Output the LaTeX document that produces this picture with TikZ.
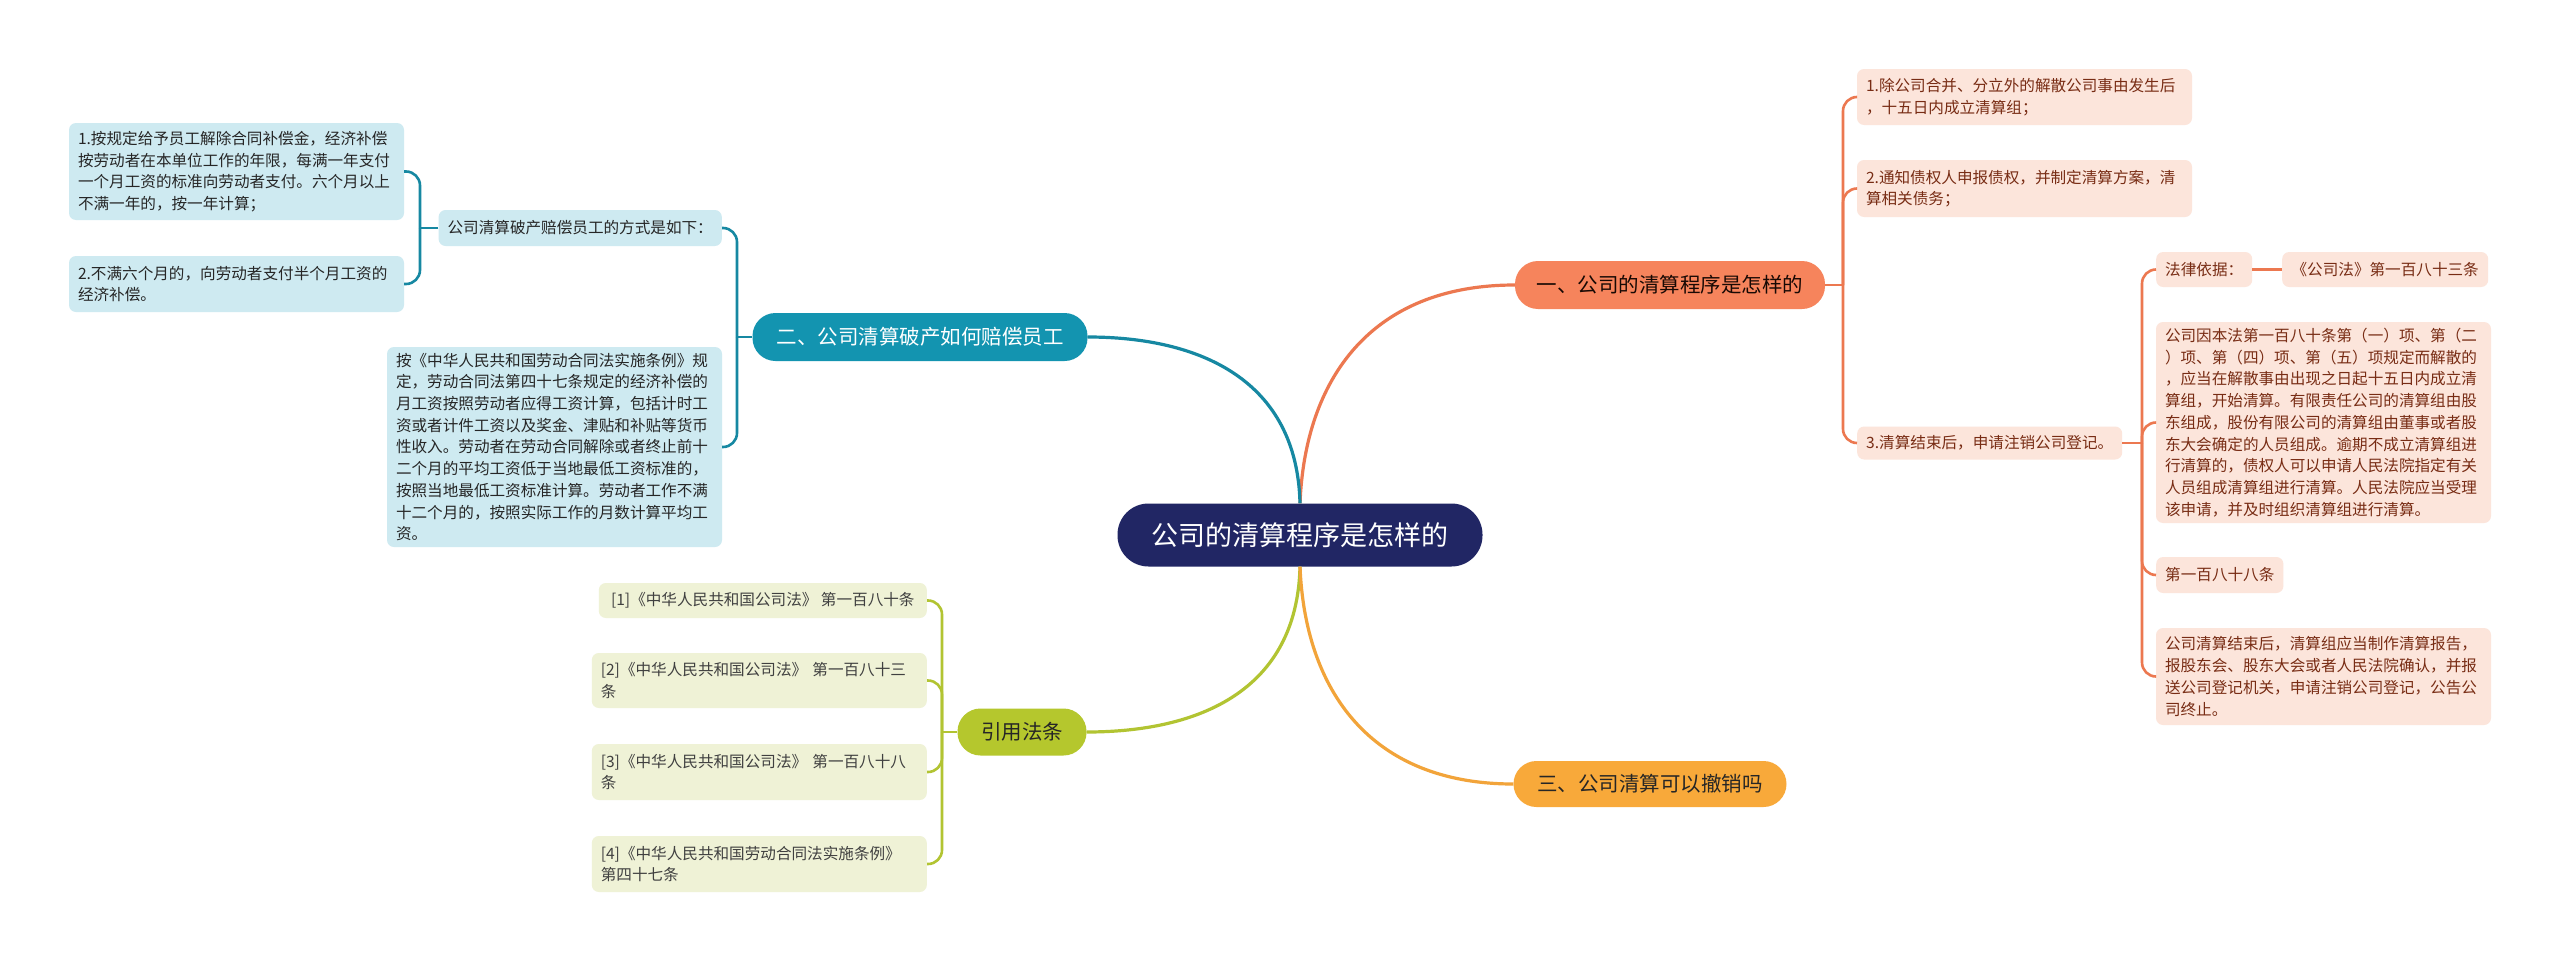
\documentclass[tikz,border=0pt]{standalone}
\usepackage{fontspec}
\setmainfont{Noto Sans CJK SC}

\definecolor{topicblue}{RGB}{33,38,100}
\definecolor{orgfill}{RGB}{246,132,92}
\definecolor{orgline}{RGB}{236,120,80}
\definecolor{orgleaf}{RGB}{252,229,219}
\definecolor{orgtext}{RGB}{120,44,20}
\definecolor{tealfill}{RGB}{19,148,176}
\definecolor{tealline}{RGB}{22,136,162}
\definecolor{tealleaf}{RGB}{206,234,241}
\definecolor{lawfill}{RGB}{181,199,45}
\definecolor{lawline}{RGB}{178,196,50}
\definecolor{lawleaf}{RGB}{239,242,214}
\definecolor{ambfill}{RGB}{248,169,58}
\definecolor{ambline}{RGB}{242,164,58}

\newcommand{\leaffont}{\fontsize{15.6pt}{21.7pt}\selectfont}

\begin{document}
\begin{tikzpicture}[x=1pt, y=-1pt,
                    topicbox/.style={fill=topicblue, text=white, rounded corners=31pt,
                                     minimum width=365pt, minimum height=63pt,
                                     font=\fontsize{27pt}{30pt}\selectfont},
                    branchbox/.style={rounded corners=23pt, inner xsep=0pt,
                                      font=\fontsize{20.5pt}{24pt}\selectfont},
                    leafbox/.style={rounded corners=7pt, inner xsep=9pt, inner ysep=2pt,
                                    align=left, font=\leaffont},
                    orgbox/.style={leafbox, fill=orgleaf, text=orgtext},
                    tealbox/.style={leafbox, fill=tealleaf, text=black!85},
                    lawbox/.style={leafbox, fill=lawleaf, text=black!75},
                    mainline/.style={line width=3.2pt},
                    subline/.style={line width=2.6pt, rounded corners=14pt}]

% background and size
\fill[white] (0,0) rectangle (2560,961);
\useasboundingbox (0,0) rectangle (2560,961);

% centre topic
\node[topicbox] (topic) at (1300,535) {公司的清算程序是怎样的};

% main branches
\node[branchbox, fill=orgfill, text=black!80!orgtext, minimum width=310pt, minimum height=48pt] (procedure) at (1670,285) {一、公司的清算程序是怎样的};
\node[branchbox, fill=tealfill, text=white, minimum width=335pt, minimum height=48pt] (payment) at (920,337) {二、公司清算破产如何赔偿员工};
\node[branchbox, fill=lawfill, text=black!85, minimum width=129pt, minimum height=47pt] (laws) at (1022,732) {引用法条};
\node[branchbox, fill=ambfill, text=black!85, minimum width=273pt, minimum height=46pt] (revoke) at (1650,784) {三、公司清算可以撤销吗};

% connectors from the topic
\draw[mainline, orgline] (topic.north) .. controls (1305,380) and (1370,285) .. (procedure.west);
\draw[mainline, tealline] (topic.north) .. controls (1297,380) and (1200,337) .. (payment.east);
\draw[mainline, lawline] (topic.south) .. controls (1297,690) and (1200,732) .. (laws.east);
\draw[mainline, ambline] (topic.south) .. controls (1305,690) and (1370,784) .. (revoke.west);

% branch one: steps
\node[orgbox, text width=317pt, minimum height=56pt] (stepa) at (2024.5,97) {1.除公司合并、分立外的解散公司事由发生后\\，十五日内成立清算组；};
\node[orgbox, text width=317pt, minimum height=57pt] (stepb) at (2024.5,188.5) {2.通知债权人申报债权，并制定清算方案，清\\算相关债务；};
\node[orgbox, anchor=west, minimum height=33pt] (stepc) at (1857,443) {3.清算结束后，申请注销公司登记。};

\coordinate (procfork) at (1843,285);
\draw[subline, orgline] (procedure.east) -- (procfork);
\draw[subline, orgline] (procfork) |- (stepa.west);
\draw[subline, orgline] (procfork) |- (stepb.west);
\draw[subline, orgline] (procfork) |- (stepc.west);

% step three details
\node[orgbox, anchor=west, minimum height=35pt] (basis) at (2156,269.5) {法律依据：};
\node[orgbox, anchor=west, minimum height=35pt, minimum width=206pt, align=right] (basislaw) at (2282,269.5) {《公司法》第一百八十三条};
\node[orgbox, text width=317pt, minimum height=201pt] (art183) at (2323.5,422.5) {公司因本法第一百八十条第（一）项、第（二\\）项、第（四）项、第（五）项规定而解散的\\，应当在解散事由出现之日起十五日内成立清\\算组，开始清算。有限责任公司的清算组由股\\东组成，股份有限公司的清算组由董事或者股\\东大会确定的人员组成。逾期不成立清算组进\\行清算的，债权人可以申请人民法院指定有关\\人员组成清算组进行清算。人民法院应当受理\\该申请，并及时组织清算组进行清算。};
\node[orgbox, anchor=west, minimum height=36pt] (art188) at (2156,575) {第一百八十八条};
\node[orgbox, text width=317pt, minimum height=97pt] (art188text) at (2323.5,676.5) {公司清算结束后，清算组应当制作清算报告，\\报股东会、股东大会或者人民法院确认，并报\\送公司登记机关，申请注销公司登记，公告公\\司终止。};

\coordinate (stepfork) at (2142,443);
\draw[subline, orgline] (stepc.east) -- (stepfork);
\draw[subline, orgline] (stepfork) |- (basis.west);
\draw[subline, orgline] (stepfork) |- (art183.west);
\draw[subline, orgline] (stepfork) |- (art188.west);
\draw[subline, orgline] (stepfork) |- (art188text.west);
\draw[subline, orgline] (basis.east) -- (basislaw.west);

% branch two: compensation
\node[tealbox, anchor=east, minimum height=36pt] (ways) at (722,228) {公司清算破产赔偿员工的方式是如下：};
\node[tealbox, text width=317pt, minimum height=97pt] (waya) at (236.5,171.5) {1.按规定给予员工解除合同补偿金，经济补偿\\按劳动者在本单位工作的年限，每满一年支付\\一个月工资的标准向劳动者支付。六个月以上\\不满一年的，按一年计算；};
\node[tealbox, text width=317pt, minimum height=56pt] (wayb) at (236.5,284) {2.不满六个月的，向劳动者支付半个月工资的\\经济补偿。};
\node[tealbox, text width=317pt, minimum height=200pt] (wage) at (554.5,447) {按《中华人民共和国劳动合同法实施条例》规\\定，劳动合同法第四十七条规定的经济补偿的\\月工资按照劳动者应得工资计算，包括计时工\\资或者计件工资以及奖金、津贴和补贴等货币\\性收入。劳动者在劳动合同解除或者终止前十\\二个月的平均工资低于当地最低工资标准的，\\按照当地最低工资标准计算。劳动者工作不满\\十二个月的，按照实际工作的月数计算平均工\\资。};

\coordinate (payfork) at (737,337);
\draw[subline, tealline] (payment.west) -- (payfork);
\draw[subline, tealline] (payfork) |- (ways.east);
\draw[subline, tealline] (payfork) |- (wage.east);

\coordinate (wayfork) at (420,228);
\draw[subline, tealline] (ways.west) -- (wayfork);
\draw[subline, tealline] (wayfork) |- (waya.east);
\draw[subline, tealline] (wayfork) |- (wayb.east);

% cited laws
\node[lawbox, anchor=east, minimum height=35pt, minimum width=328pt] (lawa) at (927,600.5) {[1]《中华人民共和国公司法》 第一百八十条};
\node[lawbox, anchor=east, text width=317pt, minimum height=55pt] (lawb) at (927,680.5) {[2]《中华人民共和国公司法》 第一百八十三\\条};
\node[lawbox, anchor=east, text width=317pt, minimum height=56pt] (lawc) at (927,772) {[3]《中华人民共和国公司法》 第一百八十八\\条};
\node[lawbox, anchor=east, text width=317pt, minimum height=56pt] (lawd) at (927,864) {[4]《中华人民共和国劳动合同法实施条例》\\第四十七条};

\coordinate (lawfork) at (942,732);
\draw[subline, lawline] (laws.west) -- (lawfork);
\draw[subline, lawline] (lawfork) |- (lawa.east);
\draw[subline, lawline] (lawfork) |- (lawb.east);
\draw[subline, lawline] (lawfork) |- (lawc.east);
\draw[subline, lawline] (lawfork) |- (lawd.east);
\end{tikzpicture}
\end{document}
